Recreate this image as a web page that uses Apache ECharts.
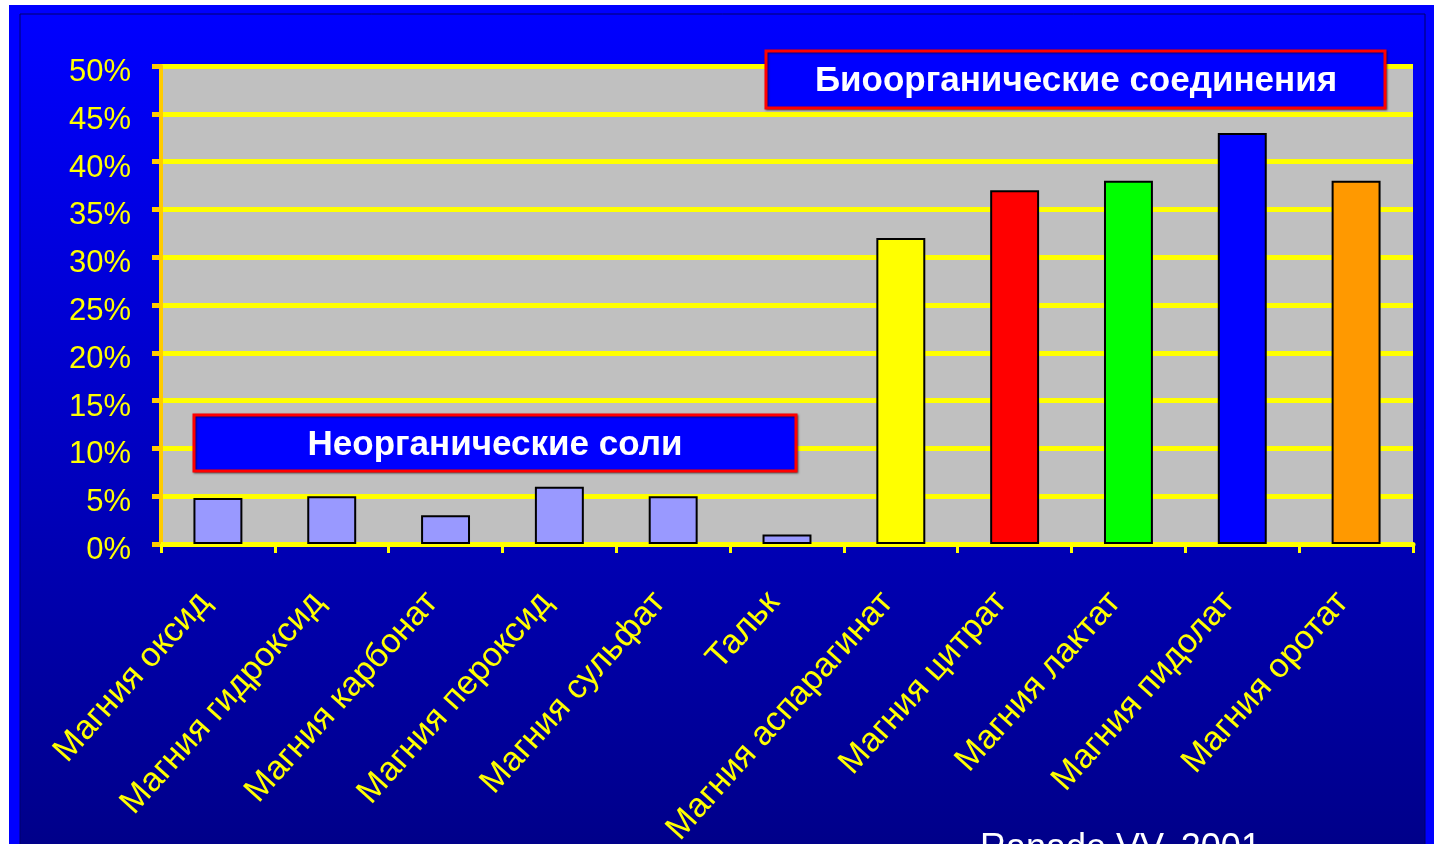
<!DOCTYPE html>
<html>
<head>
<meta charset="utf-8">
<script src="https://cdn.jsdelivr.net/npm/echarts@6/dist/echarts.min.js"></script>
<style>html,body{margin:0;padding:0;background:#fff;}#c{width:1434px;height:844px;}</style>
</head>
<body>
<div id="c"></div>
<script>
const categories = ["Магния оксид", "Магния гидроксид", "Магния карбонат", "Магния пероксид", "Магния сульфат", "Тальк", "Магния аспарагинат", "Магния цитрат", "Магния лактат", "Магния пидолат", "Магния оротат"];
const values = [4.8, 5, 3, 6, 5, 1, 32, 37, 38, 43, 38];
const barColors = ["#9999ff", "#9999ff", "#9999ff", "#9999ff", "#9999ff", "#9999ff", "#ffff00", "#ff0000", "#00ff00", "#0000ff", "#ff9900"];
const yTicks = { min: 0, max: 50, interval: 5 };
const boxLabels = ["Биоорганические соединения", "Неорганические соли"];
const sourceNote = "Ranade VV, 2001";

const chart = echarts.init(document.getElementById('c'), null, { renderer: 'canvas' });
const boxStyle = { fill: '#0000ff', stroke: '#ff0000', lineWidth: 3, shadowColor: 'rgba(0,0,0,0.5)', shadowBlur: 2, shadowOffsetX: 1, shadowOffsetY: 1 };
const boxText = { fill: '#ffffff', fontSize: 35, fontWeight: 'bold', fontFamily: "'Liberation Sans', Arial, sans-serif", align: 'center', verticalAlign: 'middle' };
chart.setOption({
  backgroundColor: '#ffffff',
  animation: false,
  graphic: [
    { type: 'rect', z: -10, silent: true, shape: { x: 9, y: 5, width: 1425, height: 839 }, style: { fill: '#0000ff' } },
    { type: 'rect', z: -9, silent: true, shape: { x: 20, y: 14, width: 1405, height: 840 },
      style: { fill: new echarts.graphic.LinearGradient(0, 0, 0, 1, [{ offset: 0, color: '#0000ff' }, { offset: 1, color: '#000088' }]), stroke: '#00006a', lineWidth: 1 } },
    { type: 'rect', zlevel: 1, z: 100, silent: true, shape: { x: 766, y: 51, width: 619, height: 57 }, style: boxStyle },
    { type: 'text', zlevel: 1, z: 101, silent: true, style: Object.assign({ x: 1076, y: 81, text: boxLabels[0] }, boxText) },
    { type: 'rect', zlevel: 1, z: 100, silent: true, shape: { x: 194, y: 415, width: 602, height: 56 }, style: boxStyle },
    { type: 'text', zlevel: 1, z: 101, silent: true, style: Object.assign({ x: 495, y: 445, text: boxLabels[1] }, boxText) },
    { type: 'text', zlevel: 1, z: 100, silent: true, style: { x: 980, y: 831, text: sourceNote, fill: '#ffffff', fontSize: 36, fontFamily: "'Liberation Sans', Arial, sans-serif", align: 'left', verticalAlign: 'top' } }
  ],
  grid: { left: 161, right: 21, top: 66, bottom: 300, show: true, backgroundColor: '#c0c0c0', borderWidth: 0, containLabel: false, outerBoundsMode: 'none' },
  xAxis: {
    type: 'category',
    data: categories,
    axisLine: { show: true, lineStyle: { color: '#ffff00', width: 5 } },
    axisTick: { show: true, length: 9, lineStyle: { color: '#ffff00', width: 3 } },
    axisLabel: { interval: 0, rotate: 48, color: '#ffff00', fontSize: 34, fontFamily: "'Liberation Sans', Arial, sans-serif", margin: 38, padding: [0, 20, 0, 0] },
    splitLine: { show: false }
  },
  yAxis: {
    type: 'value',
    min: yTicks.min, max: yTicks.max, interval: yTicks.interval,
    axisLine: { show: true, lineStyle: { color: '#ffcc00', width: 4 } },
    axisTick: { show: true, length: 9, lineStyle: { color: '#ffcc00', width: 5 } },
    axisLabel: { formatter: '{value}%', color: '#ffff00', fontSize: 31, fontFamily: "'Liberation Sans', Arial, sans-serif", margin: 30, verticalAlign: 'top', lineHeight: 13 },
    splitLine: { show: true, lineStyle: { color: '#ffff00', width: 5 } }
  },
  series: [{
    type: 'bar',
    barWidth: '43%',
    data: values.map((v, i) => ({ value: v, itemStyle: { color: barColors[i] } })),
    itemStyle: { borderColor: '#000000', borderWidth: 2 }
  }]
});
</script>
</body>
</html>
